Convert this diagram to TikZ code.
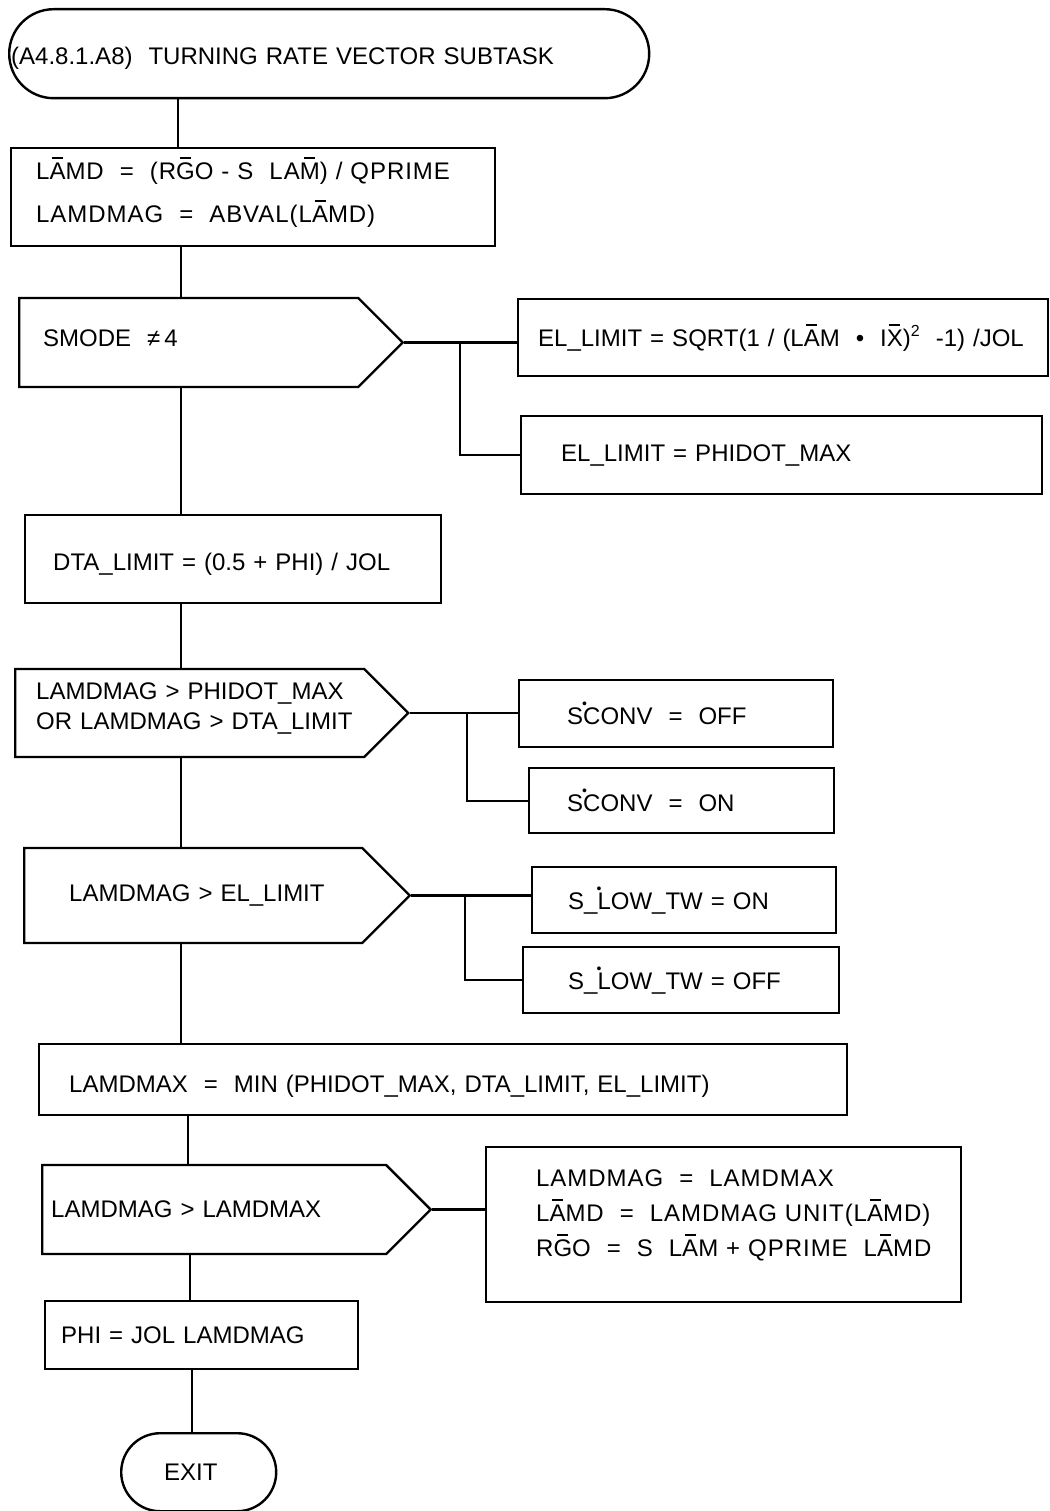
\documentclass[tikz,border=0pt]{standalone}
\usepackage{fontspec}
\setmainfont{Liberation Sans}
\newfontfamily\widefont[LetterSpace=4]{Liberation Sans}
\usetikzlibrary{positioning,shapes.symbols}
\newcommand\ov[1]{\leavevmode\setbox0\hbox{#1}\rlap{\hbox to\wd0{\hss\rule[20.5pt]{11pt}{2.2pt}\hss}}\box0}
\newcommand\dt[1]{\leavevmode\rlap{\kern-1pt\raisebox{16pt}{\fontsize{14}{14}\selectfont\textbullet}}#1}
\newcommand\sq{\raisebox{10pt}{\fontsize{16}{16}\selectfont 2}}

\begin{document}
\begin{tikzpicture}[x=1pt,y=-1pt,
		line width=2.4pt,
		every node/.style={
			font=\fontsize{24}{30}\selectfont,
			align=left,
			inner ysep=0pt,
			anchor=north west,
			execute at begin node={\hyphenpenalty=10000}
		},
		proc/.style={draw, rectangle},
		term/.style={draw, rectangle, rounded corners=#1},
		decision/.style={draw, shape=signal, signal to=east, signal pointer angle=90, anchor=west},
		wide/.style={font=\widefont\fontsize{24}{30}\selectfont}
		]
		
		\useasboundingbox (0,0) rectangle (1049,1511);
		
		\node[term=44.5pt, minimum height=89pt, inner xsep=2pt, text width=636pt, text height=26pt] (start) at (8,8) {(A4.8.1.A8)~~TURNING~RATE~VECTOR~SUBTASK};
		
		\node[proc, wide, minimum height=98pt, inner xsep=25pt, text width=434pt, text depth=58pt] (calc) at (10,147) {L\ov{A}MD~~=~~(R\ov{G}O~-~S~~LA\ov{M})~/~QPRIME\\[13pt]LAMDMAG~~=~~ABVAL(L\ov{A}MD)};
		
		\node[decision, minimum height=89pt, inner xsep=24pt, text width=291pt, text depth=8pt] (smode) at (18,342.5) {SMODE~~≠\,4};
		\node[proc, minimum height=77pt, inner xsep=20pt, text width=490pt] (ellim) at (517,298) {EL\_LIMIT~=~SQRT(1~/~(L\ov{A}M~~\textbullet~~I\ov{X})\sq~~-1)~/JOL};
		\node[proc, minimum height=78pt, inner xsep=40pt, text width=441pt] (elmax) at (520,415) {EL\_LIMIT~=~PHIDOT\_MAX};
		
		\node[proc, minimum height=88pt, inner xsep=28pt, text width=360pt, text height=27pt] (dta) at (24,514) {DTA\_LIMIT~=~(0.5~+~PHI)~/~JOL};
		
		\node[decision, minimum height=88pt, inner xsep=21pt, text width=307pt, text depth=43pt] (conv) at (14,713) {LAMDMAG~>~PHIDOT\_MAX\\OR~LAMDMAG~>~DTA\_LIMIT};
		\node[proc, minimum height=67pt, inner xsep=48pt, text width=218pt] (convoff) at (518,679) {S\dt{C}ONV~~=~~OFF};
		\node[proc, minimum height=65pt, inner xsep=38pt, text width=229pt] (convon) at (528,767) {S\dt{C}ONV~~=~~ON};
		
		\node[decision, minimum height=95pt, inner xsep=45pt, text width=248pt] (low) at (23,895.5) {LAMDMAG~>~EL\_LIMIT};
		\node[proc, minimum height=66pt, inner xsep=36pt, text width=232pt] (lowon) at (531,866) {S\_\dt{L}OW\_TW~=~ON};
		\node[proc, minimum height=66pt, inner xsep=45pt, text width=226pt] (lowoff) at (522,946) {S\_\dt{L}OW\_TW~=~OFF};
		
		\node[proc, minimum height=71pt, inner xsep=30pt, text width=748pt, text height=31pt] (lmax) at (38,1043) {LAMDMAX~~=~~MIN~(PHIDOT\_MAX,~DTA\_LIMIT,~EL\_LIMIT)};
		
		\node[decision, minimum height=89pt, inner xsep=9pt, text width=326pt] (clip) at (41,1209.5) {LAMDMAG~>~LAMDMAX};
		\node[proc, wide, minimum height=155pt, inner xsep=50pt, text width=375pt, text depth=93pt] (rescale) at (485,1146) {LAMDMAG~~=~~LAMDMAX\\[5pt]L\ov{A}MD~~=~~LAMDMAG~UNIT(L\ov{A}MD)\\[5pt]R\ov{G}O~~=~~S~~L\ov{A}M~+~QPRIME~~L\ov{A}MD};
		
		\node[proc, minimum height=68pt, inner xsep=16pt, text width=281pt] (phi) at (44,1300) {PHI~=~JOL~LAMDMAG};
		
		\node[term=39pt, minimum height=78pt, inner xsep=43pt, text width=69pt] (exit) at (120,1432) {EXIT};
		
		\draw (start.south -| 178,0)--(calc.north -| 178,0);
		\draw (calc.south -| 181,0)--(smode.north -| 181,0);
		\draw (smode.south -| 181,0)--(dta.north -| 181,0);
		\draw (dta.south -| 181,0)--(conv.north -| 181,0);
		\draw (conv.south -| 181,0)--(low.north -| 181,0);
		\draw (low.south -| 181,0)--(lmax.north -| 181,0);
		\draw (lmax.south -| 188,0)--(clip.north -| 188,0);
		\draw (clip.south -| 190,0)--(phi.north -| 190,0);
		\draw (phi.south -| 192,0)--(exit.north -| 192,0);
		
		\draw (smode.east)--(smode.east -| ellim.west);
		\draw (smode.east -| 460,0) |- (elmax.west);
		\draw (conv.east)--(conv.east -| convoff.west);
		\draw (conv.east -| 467,0) |- (convon.west);
		\draw (low.east)--(low.east -| lowon.west);
		\draw (low.east -| 465,0) |- (lowoff.west);
		\draw (clip.east)--(clip.east -| rescale.west);
		
	\end{tikzpicture}
\end{document}
